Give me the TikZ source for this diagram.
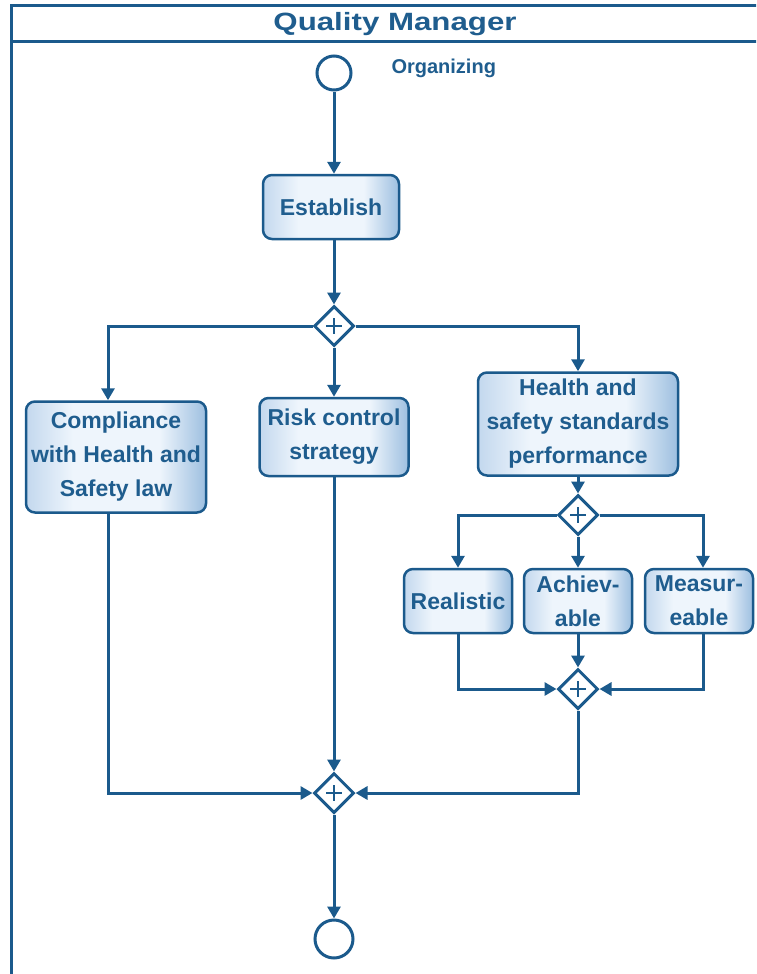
\documentclass[tikz,border=0pt]{standalone}
\usepackage{fontspec}
\setmainfont{Liberation Sans}
\usepackage{graphicx}
\usetikzlibrary{arrows.meta}
\usetikzlibrary{shapes.geometric}
\definecolor{qmblue}{HTML}{1B5A8C}
\definecolor{qmtext}{HTML}{1F5D8E}
\definecolor{qmpale}{HTML}{C3D8EE}
\definecolor{qmwhite}{HTML}{EEF5FC}
\definecolor{qmedge}{HTML}{9DBFE0}
% fill of the task boxes, white band in the middle
\pgfdeclarehorizontalshading{taskfill}{100bp}{%
    color(0bp)=(qmpale); color(25bp)=(qmpale); color(38bp)=(qmwhite);%
    color(62bp)=(qmwhite); color(75bp)=(qmedge); color(100bp)=(qmedge)}

\begin{document}
\begin{tikzpicture}
    [%
        x=1pt,y=-1pt,%
        task/.style={%
            draw=qmblue,%
            line width=2.5pt,%
            rounded corners=9pt,%
            shading=taskfill,%
            text=qmtext,%
            align=center,%
            inner sep=0pt,%
            font=\bfseries\fontsize{23}{34}\selectfont%
        },%
        gateway/.style={%
            draw=qmblue,%
            fill=white,%
            line width=3pt,%
            diamond,%
            inner sep=0pt,%
            minimum width=40pt,%
            minimum height=40pt,%
            path picture={%
                \draw[qmblue,line width=2.5pt]
                    (path picture bounding box.center) +(-8,0) -- +(8,0)
                    +(0,-8) -- +(0,8);%
            }%
        },%
        event/.style={%
            draw=qmblue,%
            fill=white,%
            line width=3pt,%
            circle,%
            inner sep=0pt%
        },%
        flow/.style={%
            draw=qmblue,%
            line width=3pt,%
            -{Triangle[length=12pt,width=13pt]}%
        },%
        lane/.style={%
            draw=qmblue,%
            line width=3pt%
        }%
    ]%
%
    \clip (0,0) rectangle (756,974);
    % the lane and its title band
    \draw[lane] (11,6) rectangle (800,1000);
    \draw[lane] (11,42) -- (800,42);
    \node[text=qmtext,font=\bfseries\fontsize{25}{30}\selectfont]
        (lane-title) at (395,24) {\scalebox{1.25}[1]{Quality Manager}};
%
    % events and the first task
    \node[event,minimum size=34pt] (start) at (334,73) {};
    \node[text=qmtext,anchor=west,font=\bfseries\fontsize{20}{24}\selectfont]
        (start-label) at (388,68) {Organizing};
    \node[task,minimum width=136pt,minimum height=64pt] (establish)
        at (331,207) {Establish};
    \node[event,minimum size=38pt] (end) at (334,939) {};
%
    % gateways
    % \name gateway name
    % \x/\y gateway centre
    \foreach \name/\x/\y in {%
        gate-split/334/326,%
        gate-health/578/515,%
        gate-smart/578/689,%
        gate-join/334/793%
    }
        \node[gateway] (\name) at (\x,\y) {};
%
    % tasks of the first split
    \node[task,minimum width=180pt,minimum height=111pt] (compliance)
        at (116,457) {Compliance\\with Health and\\Safety law};
    \node[task,minimum width=149pt,minimum height=78pt] (risk)
        at (334,437) {Risk control\\strategy};
    \node[task,minimum width=200pt,minimum height=103pt] (health)
        at (578,424) {Health and\\safety standards\\performance};
%
    % tasks of the second split
    % \name task name, \x its centre
    \foreach \name/\x/\label in {%
        realistic/458/Realistic,%
        achievable/578/{Achiev-\\able},%
        measureable/699/{Measur-\\eable}%
    }
        \node[task,minimum width=108pt,minimum height=64pt] (\name)
            at (\x,601) {\label};
%
    % flows
    \draw[flow] (start) -- (start |- establish.north);
    \draw[flow] (establish.south -| gate-split) -- (gate-split);
    \draw[flow] (gate-split.west) -| ([xshift=-8pt]compliance.north);
    \draw[flow] (gate-split) -- (risk);
    \draw[flow] (gate-split.east) -| (health.north);
    \draw[flow] (health) -- (gate-health);
    \draw[flow] (gate-health.west) -| (realistic.north);
    \draw[flow] (gate-health) -- (achievable);
    \draw[flow] (gate-health.east) -| ([xshift=4pt]measureable.north);
    \draw[flow] (realistic.south) |- (gate-smart.west);
    \draw[flow] (achievable) -- (gate-smart);
    \draw[flow] ([xshift=4pt]measureable.south) |- (gate-smart.east);
    \draw[flow] ([xshift=-8pt]compliance.south) |- (gate-join.west);
    \draw[flow] (risk) -- (gate-join);
    \draw[flow] (gate-smart) |- (gate-join.east);
    \draw[flow] (gate-join) -- (end);
\end{tikzpicture}
\end{document}
